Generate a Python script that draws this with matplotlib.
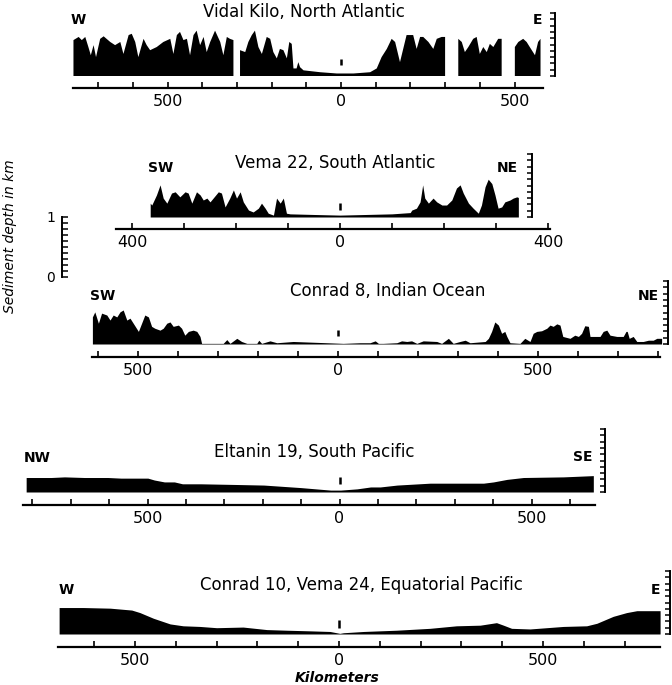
import numpy as np
import matplotlib.pyplot as plt
from matplotlib.ticker import FixedLocator, FuncFormatter

plt.rcParams['font.family'] = 'DejaVu Sans'

# Sediment thickness profiles: distance along track (km from the centre mark)
# and sediment thickness (km).  NaN marks a break in the record.
vidal_km = [-771, -756, -747, -737, -728, -721, -713, -706, -694, -684, -665, -651,
            -636, -627, -612, -603, -593, -584, -569, -560, -550, -531, -512, -492,
            -483, -473, -464, -454, -444, -435, -425, -416, -406, -396, -387, -377,
            -363, -348, -339, -329, -320, -310, np.nan,
            -291, -276, -267, -257, -248, -238, -228, -214, -204, -195, -185, -176,
            -166, -156, -149, -142, -137, -128, -123, -118, -108, -60, -12, 36, 84,
            103, 117, 132, 146, 156, 170, 189, 208, 218, 228, 237, 252, 266, 276, 290,
            300, np.nan,
            338, 348, 357, 367, 381, 391, 400, 410, 420, 429, 439, 453, 463, np.nan,
            501, 511, 525, 535, 544, 559, 568, 575]
vidal_sed = [0.57, 0.62, 0.57, 0.62, 0.46, 0.33, 0.49, 0.30, 0.59, 0.63, 0.54, 0.49,
             0.54, 0.35, 0.65, 0.67, 0.54, 0.30, 0.59, 0.49, 0.41, 0.46, 0.54, 0.59,
             0.35, 0.65, 0.70, 0.57, 0.59, 0.33, 0.65, 0.72, 0.49, 0.62, 0.38, 0.54,
             0.72, 0.54, 0.33, 0.62, 0.59, 0.57, np.nan,
             0.41, 0.38, 0.54, 0.65, 0.72, 0.46, 0.35, 0.62, 0.59, 0.38, 0.28, 0.43,
             0.41, 0.28, 0.54, 0.51, 0.12, 0.12, 0.22, 0.14, 0.09, 0.06, 0.04, 0.04, 0.06,
             0.12, 0.30, 0.43, 0.59, 0.54, 0.22, 0.65, 0.65, 0.43, 0.62, 0.62, 0.54, 0.43,
             0.59, 0.62, 0.62, np.nan,
             0.59, 0.54, 0.38, 0.46, 0.59, 0.62, 0.35, 0.46, 0.38, 0.51, 0.46, 0.59, 0.59,
             np.nan,
             0.46, 0.54, 0.59, 0.54, 0.46, 0.33, 0.54, 0.59]

vema_km = [-365, -362, -353, -346, -340, -333, -324, -317, -308, -298, -292, -285,
           -276, -269, -263, -256, -250, -244, -234, -228, -221, -212, -205, -199,
           -192, -186, -176, -167, -157, -151, -144, -138, -128, -122, -115, -109,
           -103, -96, -50, 0, 50, 100, 135, 138, 147, 154, 159, 163, 170, 179, 186,
           196, 205, 215, 224, 231, 237, 247, 256, 266, 272, 279, 285, 292, 298, 304,
           311, 317, 327, 333, 340, 343]
vema_sed = [0.22, 0.19, 0.35, 0.51, 0.30, 0.22, 0.38, 0.40, 0.32, 0.40, 0.38, 0.22,
            0.40, 0.35, 0.27, 0.30, 0.24, 0.30, 0.40, 0.38, 0.16, 0.30, 0.43, 0.30,
            0.40, 0.24, 0.11, 0.08, 0.14, 0.22, 0.14, 0.06, 0.03, 0.30, 0.22, 0.30,
            0.06, 0.05, 0.04, 0.03, 0.04, 0.05, 0.07, 0.11, 0.14, 0.24, 0.51, 0.30,
            0.22, 0.30, 0.24, 0.19, 0.19, 0.27, 0.46, 0.51, 0.38, 0.22, 0.14, 0.06,
            0.19, 0.48, 0.60, 0.53, 0.35, 0.14, 0.16, 0.24, 0.27, 0.30, 0.32, 0.31]

conrad8_km = [-614, -608, -599, -591, -578, -570, -562, -553, -545, -537, -528, -520,
              -512, -499, -491, -483, -474, -466, -458, -445, -437, -428, -420, -412,
              -399, -391, -383, -374, -362, -353, -345, -341, -320, -287, -278, -270,
              -253, -241, -228, -203, -198, -191, -170, -153, -112, -70, -28, 13, 55,
              80, 93, 101, 113, 147, 159, 172, 184, 197, 213, 247, 259, 276, 288, 305,
              318, 330, 368, 376, 384, 392, 401, 409, 417, 422, 430, 455, 467, 480, 488,
              497, 509, 522, 530, 538, 547, 555, 562, 580, 592, 601, 609, 617, 626, 630,
              655, 663, 672, 680, 697, 713, 720, 723, 728, 738, 747, 763, 776, 788, 797,
              809]
conrad8_sed = [0.43, 0.51, 0.33, 0.49, 0.46, 0.38, 0.46, 0.43, 0.51, 0.54, 0.38, 0.41,
               0.33, 0.20, 0.33, 0.46, 0.43, 0.28, 0.25, 0.22, 0.25, 0.33, 0.35, 0.28,
               0.30, 0.25, 0.14, 0.20, 0.22, 0.20, 0.12, 0.01, 0.01, 0.01, 0.07, 0.01,
               0.09, 0.04, 0.01, 0.01, 0.06, 0.01, 0.05, 0.02, 0.04, 0.03, 0.02, 0.01, 0.02,
               0.02, 0.05, 0.01, 0.01, 0.02, 0.05, 0.04, 0.05, 0.01, 0.05, 0.04, 0.01, 0.09,
               0.01, 0.04, 0.06, 0.02, 0.04, 0.09, 0.20, 0.35, 0.30, 0.17, 0.20, 0.12, 0.02,
               0.01, 0.09, 0.04, 0.17, 0.20, 0.21, 0.25, 0.30, 0.28, 0.32, 0.30, 0.12, 0.09,
               0.14, 0.12, 0.17, 0.29, 0.28, 0.12, 0.12, 0.20, 0.22, 0.14, 0.12, 0.12, 0.20,
               0.20, 0.09, 0.12, 0.04, 0.04, 0.06, 0.06, 0.09, 0.09]

eltanin_km = [-816, -751, -716, -664, -603, -569, -499, -482, -456, -430, -409, -361,
              -275, -197, -101, -23, 3, 46, 81, 106, 150, 236, 280, 375, 401, 436, 479,
              583, 661]
eltanin_sed = [0.23, 0.23, 0.24, 0.23, 0.23, 0.22, 0.22, 0.19, 0.16, 0.16, 0.13, 0.13,
               0.12, 0.11, 0.07, 0.03, 0.03, 0.05, 0.08, 0.08, 0.11, 0.14, 0.14, 0.14,
               0.16, 0.20, 0.23, 0.24, 0.26]

conrad10_km = [-686, -627, -561, -508, -488, -455, -414, -382, -341, -300, -235, -177,
               -128, -71, -22, 2, 11, 60, 100, 141, 223, 288, 346, 386, 403, 423, 468,
               550, 607, 632, 672, 705, 730, 787]
conrad10_sed = [0.42, 0.42, 0.41, 0.38, 0.34, 0.25, 0.16, 0.13, 0.12, 0.10, 0.11, 0.07,
                0.06, 0.05, 0.04, 0.01, 0.02, 0.04, 0.05, 0.06, 0.09, 0.13, 0.14, 0.18,
                0.14, 0.09, 0.08, 0.12, 0.13, 0.17, 0.28, 0.34, 0.37, 0.37]

titles = ['Vidal Kilo, North Atlantic', 'Vema 22, South Atlantic',
          'Conrad 8, Indian Ocean', 'Eltanin 19, South Pacific',
          'Conrad 10, Vema 24, Equatorial Pacific']
ends = [('W', 'E'), ('SW', 'NE'), ('SW', 'NE'), ('NW', 'SE'), ('W', 'E')]
tick_labels = [[-500, 0, 500], [-400, 0, 400], [-500, 0, 500],
               [-500, 0, 500], [-500, 0, 500]]

W, H = 672, 685
VSCALE = 63.0  # pixels per km of sediment

# layout of each strip: x pixel of 0 km, pixels per km, baseline pixel,
# axis-line pixel, extent of the distance axis (km), scale-bar km,
# title (km, km), left/right letters (km, km), centre mark range
layout = [
    dict(zero=341, s=0.347, base=76, axis=88, span=(-772, 582), bar=617,
         title=(-107, 1.02), left=(-758, 0.89), right=(565, 0.89), mark=(0.18, 0.27)),
    dict(zero=340, s=0.52, base=217, axis=229, span=(-431, 404), bar=369,
         title=(-10, 0.86), left=(-344, 0.78), right=(321, 0.78), mark=(0.11, 0.22)),
    dict(zero=338, s=0.40, base=344, axis=357, span=(-615, 805), bar=825,
         title=(125, 0.84), left=(-588, 0.76), right=(777, 0.76), mark=(0.13, 0.22)),
    dict(zero=339.5, s=0.384, base=492, axis=505, span=(-823, 665), bar=691,
         title=(-66, 0.63), left=(-788, 0.54), right=(634, 0.56), mark=(0.13, 0.24)),
    dict(zero=339, s=0.408, base=634, axis=647, span=(-689, 787), bar=811,
         title=(56, 0.78), left=(-669, 0.70), right=(775, 0.70), mark=(0.10, 0.22)),
]
profiles = [(vidal_km, vidal_sed), (vema_km, vema_sed), (conrad8_km, conrad8_sed),
            (eltanin_km, eltanin_sed), (conrad10_km, conrad10_sed)]

fig = plt.figure(figsize=(W / 100, H / 100), dpi=100)

for i, (lay, (km, sed)) in enumerate(zip(layout, profiles)):
    top_px, bot_px = lay['base'] - 80, lay['base'] + 40
    ax = fig.add_axes([0, 1 - bot_px / H, 1, (bot_px - top_px) / H])
    ax.set_xlim(-lay['zero'] / lay['s'], (W - lay['zero']) / lay['s'])
    ax.set_ylim((lay['base'] - bot_px) / VSCALE, (lay['base'] - top_px) / VSCALE)
    ax.patch.set_visible(False)

    km = np.array(km, dtype=float)
    sed = np.array(sed, dtype=float)
    ax.fill_between(km, 0, sed, where=~np.isnan(sed), color='black', lw=0)

    # small mark over the centre of the profile
    ax.plot([0, 0], lay['mark'], color='black', lw=1.8, solid_capstyle='butt')

    # distance axis drawn as the bottom spine below the profile
    for side in ('left', 'right', 'top'):
        ax.spines[side].set_visible(False)
    ax.spines['bottom'].set_position(('data', -(lay['axis'] - lay['base']) / VSCALE))
    ax.spines['bottom'].set_bounds(*lay['span'])
    ax.spines['bottom'].set_linewidth(1.6)
    lo = int(np.ceil(lay['span'][0] / 100) * 100)
    hi = int(np.floor(lay['span'][1] / 100) * 100)
    ax.xaxis.set_major_locator(FixedLocator(np.arange(lo, hi + 1, 100)))
    labs = tick_labels[i]
    ax.xaxis.set_major_formatter(FuncFormatter(
        lambda v, p, labs=labs: f'{abs(int(round(v)))}' if int(round(v)) in labs else ''))
    ax.tick_params(axis='x', direction='in', length=4.5, width=1.2, pad=4, labelsize=11.5)
    ax.set_yticks([])

    ax.text(*lay['title'], titles[i], ha='center', va='center', fontsize=12)
    ax.text(*lay['left'], ends[i][0], ha='center', va='center', fontsize=10,
            fontweight='bold')
    ax.text(*lay['right'], ends[i][1], ha='center', va='center', fontsize=10,
            fontweight='bold')

    # 1 km vertical scale at the right end of each strip
    bar = ax.inset_axes([lay['bar'] - 15, 0, 15, 1], transform=ax.transData)
    bar.set_ylim(0, 1)
    bar.patch.set_visible(False)
    for side in ('left', 'top', 'bottom'):
        bar.spines[side].set_visible(False)
    bar.spines['right'].set_linewidth(1.4)
    bar.set_xticks([])
    bar.yaxis.tick_right()
    bar.set_yticks(np.linspace(0, 1, 11))
    bar.tick_params(axis='y', direction='in', length=3.8, width=1.1, labelright=False)

# stand-alone depth scale on the left
sc = fig.add_axes([62 / W, 1 - 277 / H, 0.01, 60 / H])
sc.set_ylim(0, 1)
sc.patch.set_visible(False)
for side in ('right', 'top', 'bottom'):
    sc.spines[side].set_visible(False)
sc.spines['left'].set_linewidth(1.4)
sc.set_xticks([])
sc.set_yticks([0, 1])
sc.set_yticklabels(['0', '1'])
sc.set_yticks(np.linspace(0, 1, 11), minor=True)
sc.tick_params(axis='y', which='both', direction='in', length=4, width=1.1,
               pad=5, labelsize=10)

fig.text(10 / W, 1 - 236 / H, 'Sediment depth in km', rotation=90, ha='center',
         va='center', fontsize=10, fontstyle='italic')
fig.text(337 / W, 1 - 678 / H, 'Kilometers', ha='center', va='center',
         fontsize=10, fontstyle='italic', fontweight='bold')

fig.savefig('out.png', dpi=100)
